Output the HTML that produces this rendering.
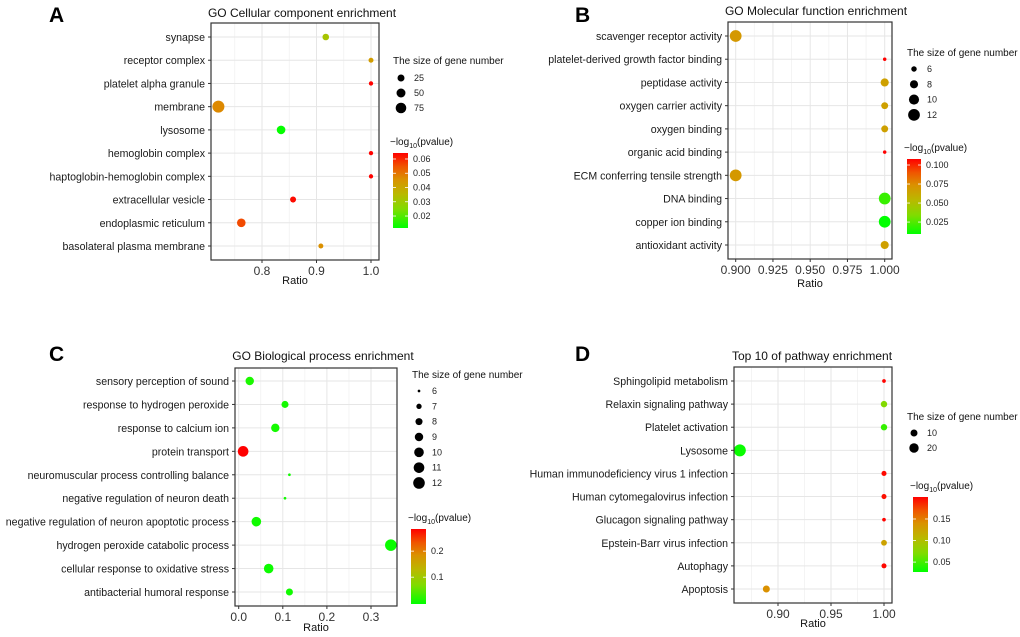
<!DOCTYPE html>
<html><head><meta charset="utf-8"><style>
html,body{margin:0;padding:0;background:#fff}
svg{display:block;font-family:"Liberation Sans",Arial,sans-serif}
</style></head><body>
<svg id="fig" width="1020" height="637" viewBox="0 0 1020 637"></svg>
<script>
// ---- Panel A data ----
const aTerms=["synapse","receptor complex","platelet alpha granule","membrane","lysosome","hemoglobin complex","haptoglobin-hemoglobin complex","extracellular vesicle","endoplasmic reticulum","basolateral plasma membrane"];
const aRatio=[0.917,1.0,1.0,0.72,0.835,1.0,1.0,0.857,0.762,0.908];
const aCount=[21,6,1,100,45,1,1,15,45,6];
const aP=[0.032,0.043,0.064,0.047,0.012,0.064,0.064,0.063,0.056,0.046];
const aTicks=[0.8,0.9,1.0];const aTickLbl=["0.8","0.9","1.0"];
const aSizeLeg=[25,50,75];const aColTicks=[0.06,0.05,0.04,0.03,0.02];
// ---- Panel B data ----
const bTerms=["scavenger receptor activity","platelet-derived growth factor binding","peptidase activity","oxygen carrier activity","oxygen binding","organic acid binding","ECM conferring tensile strength","DNA binding","copper ion binding","antioxidant activity"];
const bRatio=[0.9,1.0,1.0,1.0,1.0,1.0,0.9,1.0,1.0,1.0];
const bCount=[12,5,8,7,7,5,12,12,12,8];
const bP=[0.07,0.108,0.066,0.066,0.066,0.108,0.07,0.02,0.008,0.066];
const bTicks=[0.9,0.925,0.95,0.975,1.0];const bTickLbl=["0.900","0.925","0.950","0.975","1.000"];
const bSizeLeg=[6,8,10,12];const bColTicks=[0.1,0.075,0.05,0.025];
// ---- Panel C data ----
const cTerms=["sensory perception of sound","response to hydrogen peroxide","response to calcium ion","protein transport","neuromuscular process controlling balance","negative regulation of neuron death","negative regulation of neuron apoptotic process","hydrogen peroxide catabolic process","cellular response to oxidative stress","antibacterial humoral response"];
const cRatio=[0.025,0.105,0.083,0.01,0.115,0.105,0.04,0.345,0.068,0.115];
const cCount=[9,8,9,11,6,6,10,12,10,8];
const cP=[0.012,0.008,0.008,0.285,0.006,0.006,0.006,0.002,0.004,0.006];
const cTicks=[0,0.1,0.2,0.3];const cTickLbl=["0.0","0.1","0.2","0.3"];
const cSizeLeg=[6,7,8,9,10,11,12];const cColTicks=[0.2,0.1];
// ---- Panel D data ----
const dTerms=["Sphingolipid metabolism","Relaxin signaling pathway","Platelet activation","Lysosome","Human immunodeficiency virus 1 infection","Human cytomegalovirus infection","Glucagon signaling pathway","Epstein-Barr virus infection","Autophagy","Apoptosis"];
const dRatio=[1.0,1.0,1.0,0.864,1.0,1.0,1.0,1.0,1.0,0.889];
const dCount=[1,8,8,34,4,4,1,6,4,10];
const dP=[0.2,0.072,0.045,0.03,0.198,0.195,0.2,0.125,0.198,0.14];
const dTicks=[0.9,0.95,1.0];const dTickLbl=["0.90","0.95","1.00"];
const dSizeLeg=[10,20];const dColTicks=[0.15,0.1,0.05];

const NS="http://www.w3.org/2000/svg";
const svg=document.getElementById('fig');
const stops=[[0,[0,255,0]],[0.25,[128,220,0]],[0.45,[185,185,0]],[0.65,[218,145,0]],[0.82,[240,85,0]],[1,[255,0,0]]];
function colAt(t){t=Math.max(0,Math.min(1,t));for(let i=1;i<stops.length;i++){if(t<=stops[i][0]){const a=stops[i-1],b=stops[i];const f=(t-a[0])/(b[0]-a[0]);const c=a[1].map((v,k)=>Math.round(v+(b[1][k]-v)*f));return `rgb(${c[0]},${c[1]},${c[2]})`;}}return 'rgb(255,0,0)';}
function el(tag,attrs,parent,txt){const e=document.createElementNS(NS,tag);for(const k in attrs)e.setAttribute(k,attrs[k]);if(txt!==undefined)e.textContent=txt;(parent||svg).appendChild(e);return e;}
let gid=0;
function panel(cfg,terms,ratio,count,pv,ticks,tickLbl,sizeLeg,colTicks){
  const g=el('g',{});
  
  
  const x=v=>cfg.t0x+(v-cfg.t0)*(cfg.t1x-cfg.t0x)/(cfg.t1-cfg.t0);
  const y=i=>cfg.y0+i*(cfg.y1-cfg.y0)/(terms.length-1);
  const r=v=>Math.sqrt(Math.max(1.8,cfg.sa+cfg.sb*v));
  const cv=v=>colAt((v-cfg.cmin)/(cfg.cmax-cfg.cmin));
  const cy=v=>cfg.cb[3]-(v-cfg.cmin)*(cfg.cb[3]-cfg.cb[1])/(cfg.cmax-cfg.cmin);
  const L=el('text',{x:cfg.lx,y:cfg.ly,'font-size':21,'font-weight':'bold',fill:'#000'},g,cfg.letter);
  
  const T=el('text',{x:cfg.tx,y:cfg.ty,'font-size':12,'text-anchor':'middle',fill:'#111'},g,cfg.title);
  
  const [bx0,by0,bx1,by1]=cfg.box;
  el('rect',{x:bx0,y:by0,width:bx1-bx0,height:by1-by0,fill:'#fff'},g);
  for(let i=0;i<ticks.length-1;i++){const m=(ticks[i]+ticks[i+1])/2;el('line',{x1:x(m),x2:x(m),y1:by0,y2:by1,stroke:'#f2f2f2','stroke-width':0.8},g);}
  if(cfg.minorLeft!==undefined){el('line',{x1:x(cfg.minorLeft),x2:x(cfg.minorLeft),y1:by0,y2:by1,stroke:'#f2f2f2','stroke-width':0.8},g);}
  ticks.forEach((t,i)=>{
    el('line',{x1:x(t),x2:x(t),y1:by0,y2:by1,stroke:'#e6e6e6','stroke-width':1},g);
    el('line',{x1:x(t),x2:x(t),y1:by1,y2:by1+3,stroke:'#333'},g);
    const tl=el('text',{x:x(t),y:by1+15,'font-size':12,'text-anchor':'middle',fill:'#333'},g,tickLbl[i]);
    
  });
  terms.forEach((t,i)=>{
    el('line',{x1:bx0,x2:bx1,y1:y(i),y2:y(i),stroke:'#e6e6e6','stroke-width':1},g);
    el('line',{x1:bx0-3,x2:bx0,y1:y(i),y2:y(i),stroke:'#333'},g);
    const tl=el('text',{x:bx0-6,y:y(i)+4,'font-size':10.6,'text-anchor':'end',fill:'#1a1a1a'},g,t);
    
  });
  terms.forEach((t,i)=>{
    const c=el('circle',{cx:x(ratio[i]),cy:y(i),r:r(count[i]),fill:cv(pv[i])},g);
    
    
  });
  el('rect',{x:bx0,y:by0,width:bx1-bx0,height:by1-by0,fill:'none',stroke:'#333','stroke-width':1.2},g);
  const xt=el('text',{x:(bx0+bx1)/2,y:cfg.xty,'font-size':11,'text-anchor':'middle',fill:'#111'},g,'Ratio');
  
  const st=el('text',{x:cfg.sx,y:cfg.sty,'font-size':10,fill:'#111'},g,'The size of gene number');
  
  sizeLeg.forEach((s,i)=>{
    const yy=cfg.sy0+i*cfg.sdy;
    const c=el('circle',{cx:cfg.scx,cy:yy,r:r(s),fill:'#000'},g);
    
    el('text',{x:cfg.scx+13,y:yy+3,'font-size':9,fill:'#222'},g,String(s));
  });
  const ct=el('text',{x:cfg.cb[0]-3,y:cfg.cty,'font-size':10,fill:'#111'},g);
  
  el('tspan',{},ct,'\u2212log');el('tspan',{'font-size':7,dy:3},ct,'10');el('tspan',{dy:-3},ct,'(pvalue)');
  const id='grad'+(gid++);
  const defs=el('defs',{},g);const lg=el('linearGradient',{id:id,x1:0,y1:1,x2:0,y2:0},defs);
  stops.forEach(s=>el('stop',{offset:s[0],'stop-color':`rgb(${s[1].join(',')})`},lg));
  const cbr=el('rect',{x:cfg.cb[0],y:cfg.cb[1],width:cfg.cb[2]-cfg.cb[0],height:cfg.cb[3]-cfg.cb[1],fill:`url(#${id})`},g);
  
  colTicks.forEach(v=>{
    const yy=cy(v);
    el('line',{x1:cfg.cb[0],x2:cfg.cb[0]+3,y1:yy,y2:yy,stroke:'#fff','stroke-width':0.8},g);
    el('line',{x1:cfg.cb[2]-3,x2:cfg.cb[2],y1:yy,y2:yy,stroke:'#fff','stroke-width':0.8},g);
    el('text',{x:cfg.cb[2]+5,y:yy+3,'font-size':9,fill:'#222'},g,cfg.cfmt(v));
  });
}
panel({letter:'A',lx:49,ly:22,title:'GO Cellular component enrichment',tx:302,ty:17,box:[211,23,379,260],t0:0.8,t1:1.0,t0x:262,t1x:371,minorLeft:0.75,y0:37,y1:246,xty:284,
  sa:4.3,sb:0.317,sx:393,sty:64,scx:401,sy0:78,sdy:15,cty:145,cb:[393,153,408,228],cmin:0.0116,cmax:0.0642,cfmt:v=>v.toFixed(2)},
  aTerms,aRatio,aCount,aP,aTicks,aTickLbl,aSizeLeg,aColTicks);
panel({letter:'B',lx:575,ly:22,title:'GO Molecular function enrichment',tx:816,ty:15,box:[728,22,892,259],t0:0.9,t1:1.0,t0x:735.7,t1x:884.7,y0:36,y1:245,xty:287,
  sa:-19.5,sb:4.5,sx:907,sty:56,scx:914,sy0:69,sdy:15.3,cty:151,cb:[907,159,921,234],cmin:0.0093,cmax:0.1079,cfmt:v=>v.toFixed(3)},
  bTerms,bRatio,bCount,bP,bTicks,bTickLbl,bSizeLeg,bColTicks);
panel({letter:'C',lx:49,ly:361,title:'GO Biological process enrichment',tx:323,ty:360,box:[235,368,397,606],t0:0,t1:0.3,t0x:238.7,t1x:371,y0:381,y1:592,xty:631,
  sa:-30,sb:5.3,sx:412,sty:378,scx:419,sy0:391,sdy:15.33,cty:521,cb:[411,529,426,604],cmin:-0.003,cmax:0.285,cfmt:v=>v.toFixed(1)},
  cTerms,cRatio,cCount,cP,cTicks,cTickLbl,cSizeLeg,cColTicks);
panel({letter:'D',lx:575,ly:361,title:'Top 10 of pathway enrichment',tx:812,ty:360,box:[734,367,892,603],t0:0.9,t1:1.0,t0x:778,t1x:884,minorLeft:0.875,y0:381,y1:589,xty:627,
  sa:2.4,sb:0.985,sx:907,sty:420,scx:914,sy0:433,sdy:15,cty:489,cb:[913,497,928,572],cmin:0.027,cmax:0.201,cfmt:v=>v.toFixed(2)},
  dTerms,dRatio,dCount,dP,dTicks,dTickLbl,dSizeLeg,dColTicks);
</script>
</body></html>
